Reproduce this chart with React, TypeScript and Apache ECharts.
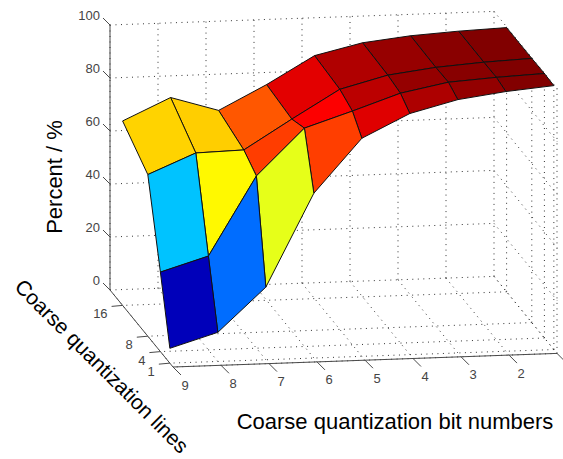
import React, { useEffect, useRef } from "react";
import * as echarts from "echarts";

// Chart data
const bitNumbers = [9, 8, 7, 6, 5, 4, 3, 2, 1];
const quantLines = [1, 4, 8, 16];
const percentAt1 = [5.6, 11, 27.4, 62.2, 82.3, 91, 95.6, 98, 99.6];
const percentAt4 = [30, 35.4, 65, 82.4, 88.2, 94.3, 97.8, 99, 99.8];
const percentAt8 = [61, 68.5, 69, 80, 90.6, 95.3, 97.6, 98.9, 99.7];
const percentAt16 = [69.6, 77.8, 72.3, 81.4, 91.7, 95.9, 97.9, 99, 99.7];
const percentRows = [percentAt1, percentAt4, percentAt8, percentAt16];
const percentTicks = [0, 20, 40, 60, 80, 100];
const bitTicks = [9, 8, 7, 6, 5, 4, 3, 2, 1];
const bitLabels = ["9", "8", "7", "6", "5", "4", "3", "2", ""];
const lineTicks = [1, 4, 8, 16];

const xMin = 1, xMax = 9, yMin = 0, yMax = 20, zMin = 0, zMax = 100;

// View (orthographic), chosen to match the reference
const W = 563, H = 459;
const view = { u0: 173, v0: 367, ux: 48, vx: -1.7, uy: -3.15, vy: -3.85, vz: -2.65 };
type P3 = [number, number, number];
const project = ([x, y, z]: P3): [number, number] => [
  view.u0 + (xMax - x) * view.ux + y * view.uy,
  view.v0 + (xMax - x) * view.vx + y * view.vy + z * view.vz,
];

const jet = (t: number) => {
  const c = (f: number) => Math.round(255 * Math.max(0, Math.min(1, f)));
  const r = 1.5 - Math.abs(4 * t - 3);
  const g = 1.5 - Math.abs(4 * t - 2);
  const b = 1.5 - Math.abs(4 * t - 1);
  return `rgb(${c(r)},${c(g)},${c(b)})`;
};

const flat = percentRows.flat();
const cMin = Math.min(...flat), cMax = Math.max(...flat);

// Faces, painted from the far corner to the near corner
type Face = { pts: P3[]; color: string };
const faces: Face[] = [];
for (let j = quantLines.length - 2; j >= 0; j--) {
  for (let i = bitNumbers.length - 2; i >= 0; i--) {
    const v = (a: number, b: number): P3 => [bitNumbers[a], quantLines[b], percentRows[b][a]];
    faces.push({
      pts: [v(i, j), v(i + 1, j), v(i + 1, j + 1), v(i, j + 1)],
      color: jet((percentRows[j][i + 1] - cMin) / (cMax - cMin)),
    });
  }
}

// Dotted grid on the back wall, side wall and floor
const gridSegs: [P3, P3][] = [];
percentTicks.forEach((z) => {
  gridSegs.push([[xMax, yMax, z], [xMin, yMax, z]]);
  gridSegs.push([[xMin, yMax, z], [xMin, yMin, z]]);
});
bitTicks.forEach((x) => {
  gridSegs.push([[x, yMax, zMin], [x, yMax, zMax]]);
  gridSegs.push([[x, yMax, zMin], [x, yMin, zMin]]);
});
[...lineTicks, yMin].forEach((y) => {
  gridSegs.push([[xMin, y, zMin], [xMin, y, zMax]]);
  gridSegs.push([[xMin, y, zMin], [xMax, y, zMin]]);
});

const axisSegs: [P3, P3][] = [
  [[xMax, yMax, zMin], [xMax, yMax, zMax]],
  [[xMax, yMax, zMin], [xMax, yMin, zMin]],
  [[xMax, yMin, zMin], [xMin, yMin, zMin]],
];

// Ticks and their labels: anchor, tick offset, label offset
type Tick = { at: P3; d: [number, number]; text: string; l: [number, number]; align: string };
const ticks: Tick[] = [
  ...percentTicks.map((z): Tick => ({ at: [xMax, yMax, z], d: [-7, -7], text: String(z), l: [-10, -10], align: "right" })),
  ...bitTicks.map((x, i): Tick => ({ at: [x, yMin, zMin], d: [8, 8], text: bitLabels[i], l: [12, 18], align: "center" })),
  ...lineTicks.map((y): Tick => ({ at: [xMax, y, zMin], d: [-11, 1], text: String(y), l: [-15, 8.5], align: "right" })),
];

const GRAY = "#4a4a4a";
const FONT = '"Liberation Sans", Arial, sans-serif';

export default function App() {
  const ref = useRef<HTMLDivElement>(null);
  useEffect(() => {
    document.body.style.margin = "0";
    const chart = echarts.init(ref.current!, null, { renderer: "svg", width: W, height: H });
    const segRenderer = (list: [P3, P3][], style: any) => (_: any, api: any) => {
      const [a, b] = list[api.value(0)];
      const p = api.coord(project(a));
      const q = api.coord(project(b));
      return { type: "line", shape: { x1: p[0], y1: p[1], x2: q[0], y2: q[1] }, style };
    };
    chart.setOption({
      animation: false,
      backgroundColor: "#fff",
      grid: { left: 0, right: 0, top: 0, bottom: 0 },
      xAxis: { type: "value", min: 0, max: W, show: false },
      yAxis: { type: "value", min: 0, max: H, inverse: true, show: false },
      series: [
        {
          type: "custom", silent: true, clip: false, z: 1,
          coordinateSystem: "cartesian2d",
          data: gridSegs.map((_, i) => [i]),
          renderItem: segRenderer(gridSegs, { stroke: "#333", lineWidth: 1, lineDash: [1, 4.5], fill: "none" }),
        },
        {
          type: "custom", silent: true, clip: false, z: 2,
          coordinateSystem: "cartesian2d",
          data: axisSegs.map((_, i) => [i]),
          renderItem: segRenderer(axisSegs, { stroke: GRAY, lineWidth: 1, fill: "none" }),
        },
        {
          type: "custom", silent: true, clip: false, z: 3,
          coordinateSystem: "cartesian2d",
          data: ticks.map((_, i) => [i]),
          renderItem: (_: any, api: any) => {
            const t = ticks[api.value(0)];
            const p = api.coord(project(t.at));
            const children: any[] = [
              { type: "line", shape: { x1: p[0], y1: p[1], x2: p[0] + t.d[0], y2: p[1] + t.d[1] }, style: { stroke: GRAY, lineWidth: 1 } },
            ];
            if (t.text) {
              children.push({
                type: "text",
                style: { text: t.text, x: p[0] + t.l[0], y: p[1] + t.l[1], align: t.align, verticalAlign: "middle", fill: "#444", font: `13px ${FONT}` },
              });
            }
            return { type: "group", children };
          },
        },
        {
          type: "custom", silent: true, clip: false, z: 4,
          coordinateSystem: "cartesian2d",
          data: faces.map((_, i) => [i]),
          renderItem: (_: any, api: any) => {
            const f = faces[api.value(0)];
            return {
              type: "polygon",
              shape: { points: f.pts.map((p) => api.coord(project(p))) },
              style: { fill: f.color, stroke: "#111", lineWidth: 1, lineJoin: "round" },
            };
          },
        },
      ],
      graphic: [
        { type: "text", x: 54, y: 177, rotation: Math.PI / 2, z: 10,
          style: { text: "Percent / %", align: "center", verticalAlign: "middle", fill: "#000", font: `22px ${FONT}` } },
        { type: "text", x: 395, y: 421, z: 10,
          style: { text: "Coarse quantization bit numbers", align: "center", verticalAlign: "middle", fill: "#000", font: `22px ${FONT}` } },
        { type: "text", x: 102, y: 366, rotation: -(45 * Math.PI) / 180, z: 10,
          style: { text: "Coarse quantization lines", align: "center", verticalAlign: "middle", fill: "#000", font: `21px ${FONT}` } },
      ],
    });
    return () => chart.dispose();
  }, []);
  return <div ref={ref} style={{ width: W, height: H }} />;
}
